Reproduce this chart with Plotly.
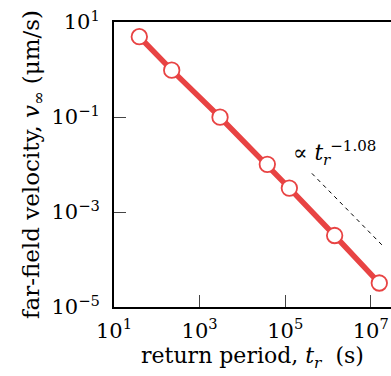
import plotly.graph_objects as go
import numpy as np

# data
return_period_s = [39, 223, 3000, 38200, 125000, 1.43e6, 1.58e7]
velocity_um_s = [4.9, 0.97, 0.099, 0.0101, 0.00319, 3.2e-4, 3.2e-5]

fit_t = [4.2e5, 2.07e7]
fit_v = [6.5e-3, 1.8e-4]

x_tickvals = [1e1, 1e3, 1e5, 1e7]
x_ticktext = ["10<sup>1</sup>", "10<sup>3</sup>", "10<sup>5</sup>", "10<sup>7</sup>"]
y_tickvals = [1e1, 1e-1, 1e-3, 1e-5]
y_ticktext = ["10<sup>1</sup>", "10<sup>−1</sup>", "10<sup>−3</sup>", "10<sup>−5</sup>"]

red = "#e84343"
font_family = "DejaVu Serif"

fig = go.Figure()
fig.add_trace(go.Scatter(
    x=return_period_s, y=velocity_um_s, mode="lines+markers",
    line=dict(color=red, width=5.5),
    marker=dict(size=15.5, color="white", line=dict(color=red, width=1.8)),
    showlegend=False,
))
fig.add_trace(go.Scatter(
    x=fit_t, y=fit_v, mode="lines",
    line=dict(color="black", width=1, dash="4px,4px"),
    showlegend=False,
))

fig.add_annotation(
    x=np.log10(1.45e6), y=np.log10(1.75e-2), xref="x", yref="y",
    text="∝ <i>t<sub>r</sub></i><sup>−1.08</sup>",
    showarrow=False, font=dict(family=font_family, size=21.5, color="black"),
)

fig.update_layout(
    width=391, height=376,
    margin=dict(l=114, r=0, t=22, b=69),
    plot_bgcolor="white", paper_bgcolor="white",
    font=dict(family=font_family, size=21, color="black"),
    xaxis=dict(
        type="log", range=[1, 1 + 277 / 42.8],
        tickvals=x_tickvals, ticktext=x_ticktext,
        ticks="inside", ticklen=12, tickwidth=1.2, tickcolor="#444",
        ticklabelstandoff=4,
        showline=True, linecolor="black", linewidth=2, mirror=True,
        showgrid=False, zeroline=False,
        title=dict(text="return period, <i>t<sub>r</sub></i>  (s)", standoff=4,
                   font=dict(size=22)),
        tickfont=dict(size=21),
    ),
    yaxis=dict(
        type="log", range=[-5, 1],
        tickvals=y_tickvals, ticktext=y_ticktext,
        ticks="inside", ticklen=12, tickwidth=1.2, tickcolor="#444",
        ticklabelstandoff=8,
        showline=True, linecolor="black", linewidth=2,
        showgrid=False, zeroline=False,
        title=dict(text="far-field velocity, <i>v</i><sub>∞</sub> (μm/s)", standoff=5,
                   font=dict(size=23)),
        tickfont=dict(size=21),
    ),
)

fig.write_html("out.html")
